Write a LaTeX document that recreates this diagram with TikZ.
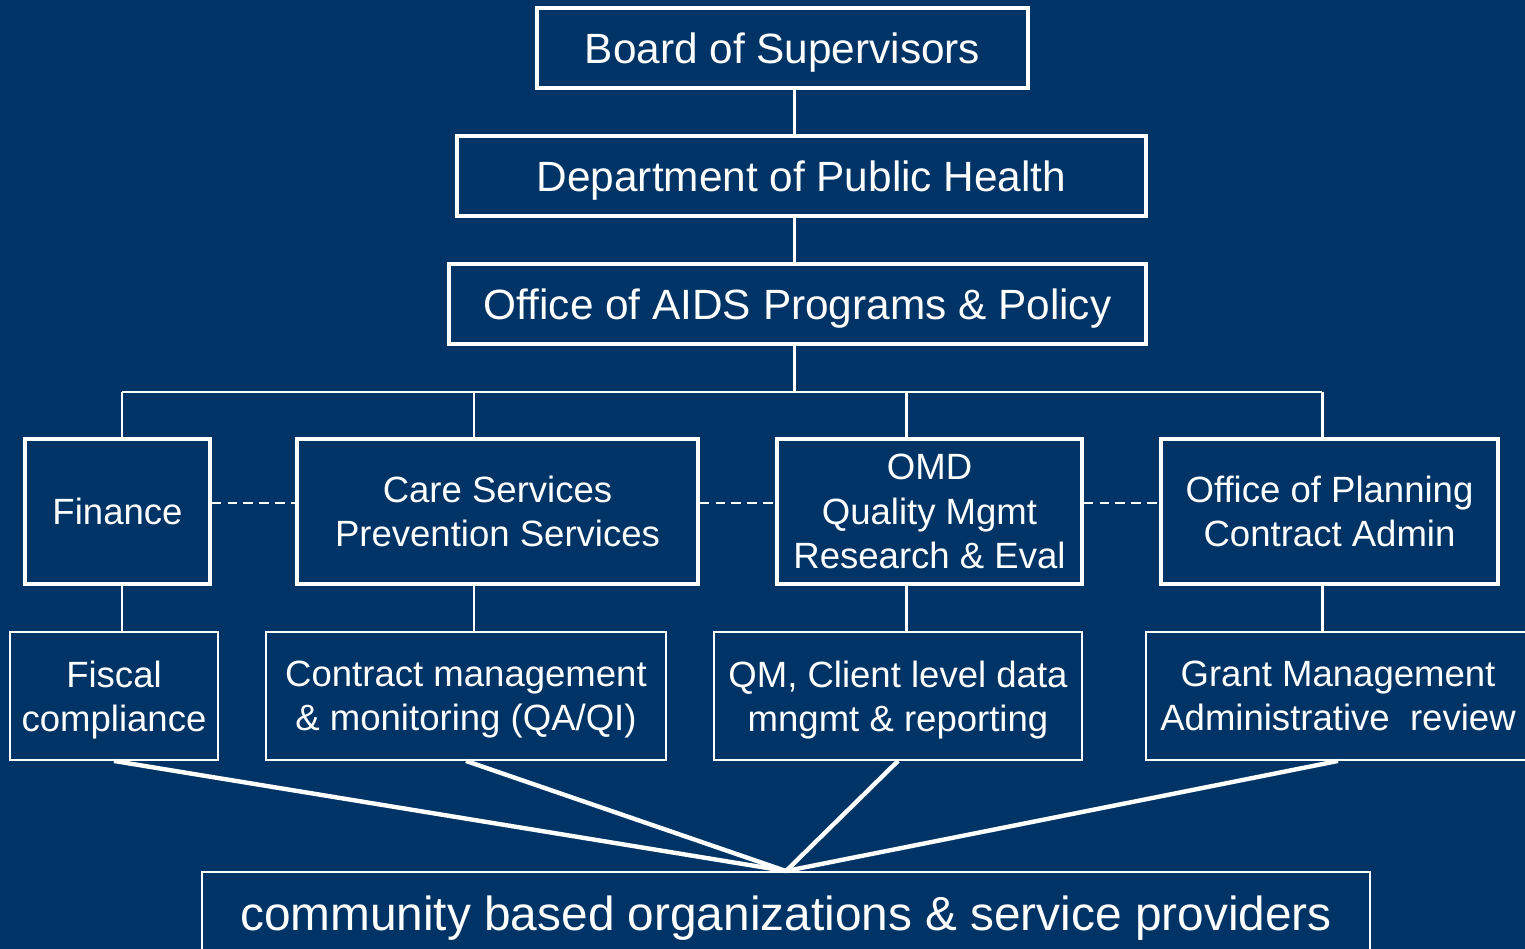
\documentclass[tikz,border=0pt]{standalone}
\usepackage{xcolor}
\usepackage{fontspec}
\setmainfont{Liberation Sans}
\usepackage{tikz}
\usetikzlibrary{positioning}
\definecolor{navy}{RGB}{0,51,102}
\tikzset{>=latex}
\tikzset{
  topbox/.style={draw=white, line width=2pt, text=white, inner sep=0pt, align=center, text depth=0pt, minimum height=1.6cm, font=\fontsize{24.1}{29}\selectfont},
  midbox/.style={draw=white, line width=2pt, text=white, inner sep=0pt, align=center, text depth=0pt, minimum height=2.9cm, font=\fontsize{20.8}{25.3}\selectfont},
  lowbox/.style={draw=white, line width=1.1pt, text=white, inner sep=0pt, align=center, text depth=0pt, minimum height=2.56cm, font=\fontsize{20.8}{25}\selectfont},
  link/.style={draw=white, line width=1.7pt},
  dashlink/.style={draw=white, line width=1.1pt, dash pattern={on 5.5pt off 3.5pt}},
  fanlink/.style={draw=white, line width=2.5pt}
}
\def\px{0.02}

\begin{document}
\begin{tikzpicture}[x=\px cm, y=-\px cm]

    \fill[navy] (0, 0) rectangle (1525, 949);
    \useasboundingbox (0, 0) rectangle (1525, 949);

    % top of the tree
    \node[topbox, minimum width=9.82cm] (board) at (782.5, 48) {Board of Supervisors};
    \node[topbox, minimum width=13.78cm] (dph) at (801.5, 176) {Department of Public Health};
    \node[topbox, minimum width=13.94cm] (oapp) at (797.5, 304) {Office of AIDS Programs \& Policy};

    % sections
    \node[midbox, minimum width=3.7cm] (fin) at (117.5, 511.5) {Finance};
    \node[midbox, minimum width=8.02cm] (care) at (497.5, 511.5) {Care Services\\Prevention Services};
    \node[midbox, minimum width=6.1cm] (omd) at (929.5, 511.5) {OMD\\Quality Mgmt\\Research \& Eval};
    \node[midbox, minimum width=6.74cm] (plan) at (1329.5, 511.5) {Office of Planning\\Contract Admin};

    % tasks
    \node[lowbox, minimum width=4.16cm] (fisc) at (114, 696) {Fiscal\\compliance};
    \node[lowbox, minimum width=8cm] (contr) at (466, 696) {Contract management\\\& monitoring (QA/QI)};
    \node[lowbox, minimum width=7.36cm] (qm) at (898, 696) {QM, Client level data\\mngmt \& reporting};
    \node[lowbox, minimum width=7.68cm] (grant) at (1338, 696) {Grant Management\\Administrative\ \ review};

    \node[lowbox, minimum width=23.36cm, minimum height=1.64cm, font=\fontsize{27.2}{32}\selectfont] (cbo) at (786, 913) {community based organizations \& service providers};

    \coordinate (spine) at (794, 392);
    \coordinate (c1) at (122, 392);
    \coordinate (c2) at (474, 392);
    \coordinate (c3) at (906, 392);
    \coordinate (c4) at (1322, 392);
    \coordinate (dashy) at (0, 503);

    \draw[link] (spine |- board.south) -- (spine |- dph.north);
    \draw[link] (spine |- dph.south) -- (spine |- oapp.north);
    \draw[link] (spine |- oapp.south) -- (spine);
    \draw[link] (c1) -- (c4);

    \foreach \c/\a/\b in {c1/fin/fisc, c2/care/contr, c3/omd/qm, c4/plan/grant}{
        \draw[link] (\c) -- (\c |- \a.north);
        \draw[link] (\c |- \a.south) -- (\c |- \b.north);
    }

    \draw[dashlink] (fin.east |- dashy) -- (care.west |- dashy);
    \draw[dashlink] (care.east |- dashy) -- (omd.west |- dashy);
    \draw[dashlink] (omd.east |- dashy) -- (plan.west |- dashy);

    \foreach \b in {fisc, contr, qm, grant}{
        \draw[fanlink] (\b.south) -- (cbo.north);
    }

\end{tikzpicture}
\end{document}
